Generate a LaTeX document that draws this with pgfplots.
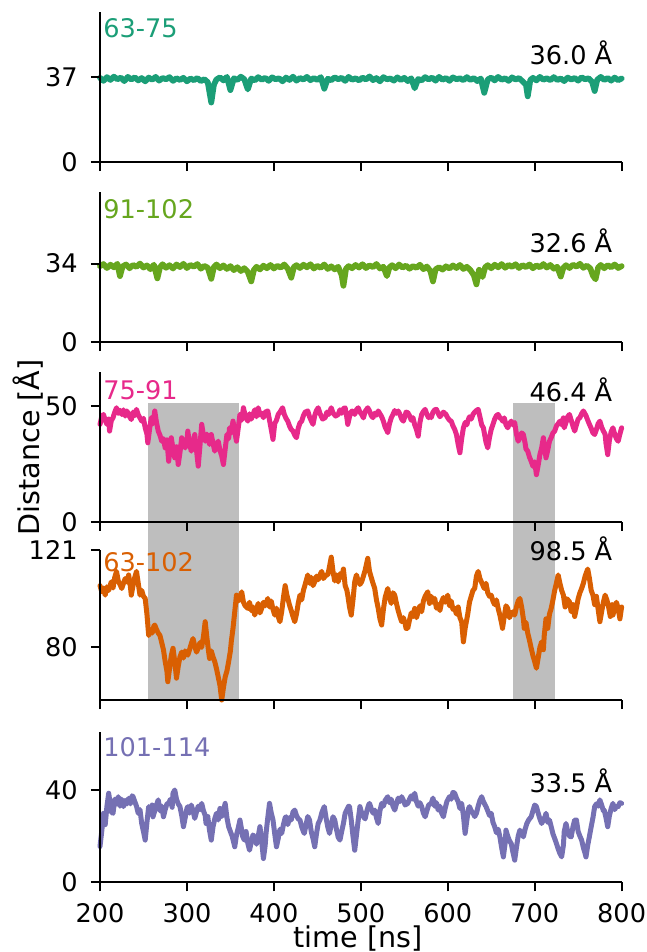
\documentclass[border=0pt]{standalone}
\usepackage{fontspec}
\setmainfont{DejaVu Sans}
\usepackage{pgfplots}
\pgfplotsset{compat=1.18}
\usepackage{xcolor}
\definecolor{cA}{HTML}{1B9E77}
\definecolor{cB}{HTML}{66A61E}
\definecolor{cC}{HTML}{E7298A}
\definecolor{cD}{HTML}{D95F02}
\definecolor{cE}{HTML}{7570B3}
\definecolor{shade}{RGB}{190,190,190}

\pgfplotsset{
  panel/.style={
    scale only axis, width=260.85pt, height=75pt,
    at={(0pt,#1)}, anchor=south west,
    xmin=200, xmax=800, ymin=0, ymax=65,
    axis lines*=left, axis on top, clip=false,
    axis line style={line width=1pt, black},
    tick align=outside, major tick length=4.5pt,
    tick style={line width=1pt, black},
    xtick={200,300,...,800}, xticklabels={},
    tick label style={font=\fontsize{12.8}{15}\selectfont},
    /pgf/number format/assume math mode=true,
    yticklabel style={anchor=east, inner sep=0pt, xshift=-6.5pt},
  },
  trace/.style={line width=2.5pt, line join=round, line cap=round},
  flat/.style={line width=2.9pt, line join=round, line cap=round},
}
\tikzset{
  lab/.style={font=\fontsize{12.8}{15}\selectfont, inner sep=0pt},
}

\begin{document}
\begin{tikzpicture}

% --- 63-75 ---
\begin{axis}[panel=360.15pt, ytick={0,37}]
\addplot[flat, cA] coordinates {
(200,36.5)(204,35.2)(208,36.8)(212,35.6)(216,37.0)(220,35.9)(224,36.6)(228,35.1)(232,36.9)(236,35.8)
(240,36.7)(244,35.4)(248,36.4)(252,35.0)(256,36.6)(260,35.7)(264,36.9)(268,35.3)(272,36.4)(276,35.9)
(280,36.8)(284,35.2)(288,36.3)(292,35.6)(296,36.5)(300,35.0)(304,36.2)(308,35.5)(312,36.4)(316,35.1)
(320,35.9)(324,34.6)(328,25.8)(331,33.5)(334,35.8)(338,36.7)(342,35.4)(346,36.9)(350,31.2)(354,36.3)
(358,35.6)(362,37.0)(366,35.9)(370,31.5)(374,36.2)(378,35.4)(382,36.8)(386,35.7)(390,36.5)(394,35.2)
(398,36.7)(402,35.9)(406,36.3)(410,35.0)(414,36.6)(418,35.6)(422,37.0)(426,35.3)(430,36.4)(434,35.8)
(438,36.9)(442,35.5)(446,36.4)(450,35.6)(454,36.8)(458,31.8)(462,36.1)(466,35.5)(470,36.7)(474,35.9)
(478,36.5)(482,35.2)(486,36.9)(490,35.7)(494,36.3)(498,35.4)(502,36.6)(506,35.8)(510,37.1)(514,35.5)
(518,36.4)(522,35.0)(526,36.8)(530,35.9)(534,36.2)(538,35.3)(542,36.7)(546,35.6)(550,36.5)(554,35.1)
(558,36.3)(562,32.0)(566,36.0)(570,35.4)(574,36.8)(578,35.8)(582,36.6)(586,35.3)(590,36.9)(594,35.7)
(598,36.4)(602,35.2)(606,36.7)(610,35.9)(614,36.3)(618,35.5)(622,36.8)(626,35.6)(630,36.4)(634,35.1)
(638,36.2)(642,30.0)(646,35.8)(650,36.6)(654,35.4)(658,36.9)(662,35.7)(666,36.3)(670,35.2)(674,36.7)
(678,35.8)(682,36.4)(686,35.0)(690,33.5)(692,28.5)(695,35.6)(698,36.5)(702,35.4)(706,36.9)(710,35.7)
(714,36.3)(718,35.5)(722,36.8)(726,35.6)(730,36.2)(734,35.1)(738,36.6)(742,35.8)(746,36.4)(750,35.3)
(754,36.7)(758,35.9)(762,36.3)(766,34.8)(769,30.8)(772,35.7)(776,36.9)(780,35.6)(784,36.4)(788,35.3)
(792,36.6)(796,35.5)(800,36.2)
};
\node[lab, anchor=north west, text=cA] at (rel axis cs:0,1) [xshift=1.5pt, yshift=-3pt] {63-75};
\node[lab, anchor=base east] at (rel axis cs:1,0) [xshift=-4.5pt, yshift=48.6pt] {36.0 Å};
\end{axis}

% --- 91-102 ---
\begin{axis}[panel=270.15pt, ytick={0,34}]
\addplot[flat, cB] coordinates {
(200,32.9)(204,33.8)(208,32.1)(212,33.5)(216,32.4)(220,33.9)(223,28.6)(226,32.8)(230,33.6)(234,32.0)
(238,33.4)(242,32.6)(246,34.0)(250,32.3)(254,33.2)(258,31.6)(262,33.5)(266,27.6)(269,32.4)(272,33.7)
(276,32.2)(280,33.3)(284,31.9)(288,33.6)(292,32.5)(296,33.9)(300,32.1)(304,33.4)(308,32.7)(312,33.8)
(316,31.8)(320,33.0)(324,32.2)(328,27.4)(331,32.5)(334,33.6)(338,32.0)(342,33.2)(346,31.7)(350,32.9)
(354,31.2)(358,32.4)(362,30.8)(366,32.0)(370,30.4)(374,26.3)(377,31.2)(380,32.6)(384,31.5)(388,33.1)
(392,32.0)(396,33.4)(400,31.9)(404,33.0)(408,32.3)(412,33.6)(416,31.8)(420,27.9)(423,32.5)(426,33.3)
(430,32.1)(434,33.5)(438,32.4)(442,33.7)(446,31.9)(450,33.0)(454,32.2)(458,33.6)(462,31.7)(466,32.8)
(470,31.5)(474,32.6)(478,29.0)(480,24.4)(483,31.8)(486,32.9)(490,32.0)(494,33.4)(498,32.3)(502,33.7)
(506,32.1)(510,33.2)(514,32.5)(518,33.8)(522,31.9)(526,32.6)(530,28.6)(533,32.4)(536,33.3)(540,32.0)
(544,33.6)(548,32.3)(552,33.1)(556,31.8)(560,32.9)(564,32.2)(568,33.5)(572,31.6)(576,32.7)(580,30.8)
(583,26.3)(586,31.5)(590,32.4)(594,31.4)(598,32.8)(602,31.9)(606,33.2)(610,32.1)(614,33.4)(618,31.7)
(622,32.6)(626,31.2)(630,29.0)(633,25.0)(636,31.3)(640,28.2)(643,32.4)(646,33.3)(650,32.0)(654,33.5)
(658,32.4)(662,33.8)(666,32.2)(670,33.4)(674,32.6)(678,33.7)(682,32.1)(686,33.3)(690,32.5)(694,33.6)
(698,32.0)(702,33.2)(706,32.4)(710,33.8)(714,32.3)(718,33.4)(722,31.8)(726,32.6)(730,28.4)(733,32.2)
(736,33.3)(740,32.1)(744,33.5)(748,32.7)(752,33.9)(756,32.2)(760,33.1)(764,31.9)(767,28.8)(770,27.2)
(773,32.3)(776,33.4)(780,32.0)(784,33.3)(788,32.4)(792,33.6)(796,32.1)(800,32.9)
};
\node[lab, anchor=north west, text=cB] at (rel axis cs:0,1) [xshift=1.5pt, yshift=-3.5pt] {91-102};
\node[lab, anchor=base east] at (rel axis cs:1,0) [xshift=-4.5pt, yshift=44.8pt] {32.6 Å};
\end{axis}

% --- 75-91, with the shaded windows running down through the next panel ---
\begin{axis}[panel=180.3pt, ytick={0,50}]
\addplot[fill=shade, draw=none] coordinates {(255.5,51.4) (360,51.4) (360,-77.4) (255.5,-77.4)} -- cycle;
\addplot[fill=shade, draw=none] coordinates {(674.7,51.4) (723.4,51.4) (723.4,-77.4) (674.7,-77.4)} -- cycle;
\addplot[trace, cC] coordinates {
(200,42.2)(202,45.5)(204,46.5)(206,44.0)(208,42.2)(210,44.5)(211,39.3)(213,43.8)(215,45.1)(217,47.5)
(219,49.4)(221,47.0)(223,48.3)(225,46.5)(227,48.5)(229,45.8)(231,48.0)(233,46.2)(236,44.3)(238,47.5)
(240,46.0)(242,48.7)(244,46.3)(246,45.0)(248,43.6)(250,44.8)(252,40.7)(254,38.0)(255,34.2)(257,40.0)
(259,45.1)(261,42.5)(263,48.0)(265,43.0)(267,39.3)(269,37.5)(271,34.9)(273,36.0)(275,32.0)(277,35.5)
(279,26.2)(281,33.0)(282,36.4)(284,31.5)(286,27.7)(288,32.5)(290,24.8)(292,30.0)(294,36.4)(296,33.5)
(298,32.0)(300,35.0)(301,39.3)(303,34.0)(305,30.6)(307,34.5)(309,37.8)(311,31.0)(313,24.1)(315,33.0)
(317,42.2)(319,37.5)(321,34.9)(323,38.0)(324,36.4)(326,33.5)(328,37.8)(330,34.0)(332,30.6)(334,33.5)
(336,34.9)(338,31.0)(340,28.5)(342,24.8)(344,31.5)(346,37.8)(348,36.0)(349,40.7)(351,38.5)(353,43.6)
(355,39.0)(357,34.9)(359,40.5)(361,46.5)(363,44.0)(365,49.4)(367,46.0)(370,43.6)(372,46.8)(374,44.5)
(376,46.5)(378,48.5)(380,45.5)(382,49.4)(384,46.3)(386,47.0)(388,45.1)(390,47.5)(393,48.0)(395,44.0)
(397,40.0)(399,35.7)(401,42.5)(403,44.0)(405,46.5)(407,47.5)(410,49.4)(412,46.5)(414,44.8)(416,43.6)
(418,41.5)(420,40.0)(422,39.3)(424,37.5)(426,36.4)(428,40.5)(430,42.8)(432,43.6)(434,46.0)(436,47.5)
(439,48.0)(441,45.5)(443,43.8)(445,42.2)(447,46.0)(449,48.2)(451,49.4)(453,47.0)(456,44.5)(459,45.1)
(461,47.5)(463,46.5)(466,49.4)(468,47.2)(471,45.8)(474,46.5)(476,48.5)(478,47.0)(480,49.0)(482,49.4)
(484,45.0)(485,42.2)(487,45.5)(489,47.8)(491,48.0)(493,46.5)(495,48.5)(497,49.4)(499,47.5)(501,46.5)
(503,45.0)(505,47.8)(508,49.4)(510,48.0)(512,46.0)(514,45.1)(516,47.0)(518,46.2)(520,48.0)(522,46.8)
(524,45.5)(526,43.6)(528,41.0)(530,39.5)(531,38.6)(533,42.5)(535,45.0)(537,46.5)(539,48.2)(541,47.0)
(543,48.0)(545,46.5)(547,44.5)(549,43.6)(551,46.0)(552,47.5)(554,47.3)(556,46.0)(558,44.0)(560,45.1)
(562,42.0)(564,40.0)(566,37.1)(568,43.0)(570,46.5)(572,47.8)(574,48.7)(576,46.5)(578,45.1)(580,46.0)
(581,45.1)(583,47.5)(585,48.5)(587,48.7)(589,47.0)(591,45.5)(593,46.5)(595,47.5)(598,46.5)(600,45.0)
(602,44.0)(604,43.6)(606,41.5)(608,40.0)(610,37.8)(612,33.5)(614,29.9)(616,36.0)(618,40.7)(620,43.0)
(622,42.0)(623,43.6)(625,45.5)(627,44.5)(629,46.5)(631,47.5)(633,48.2)(635,48.7)(637,45.5)(639,42.0)
(641,40.7)(643,36.5)(644,34.5)(646,32.0)(648,36.5)(650,40.0)(652,42.2)(654,44.5)(656,46.0)(658,46.5)
(660,45.0)(662,44.5)(663,43.6)(665,45.0)(667,42.0)(669,40.7)(671,42.5)(673,43.6)(675,42.0)(677,43.0)
(679,38.0)(681,34.9)(683,36.5)(685,38.5)(687,37.8)(689,34.0)(690,31.5)(692,30.6)(694,28.0)(696,26.2)
(698,24.0)(700,26.0)(702,20.4)(704,24.5)(706,29.1)(708,32.0)(710,36.4)(712,30.5)(713,27.7)(715,31.0)
(717,34.9)(719,36.5)(721,38.5)(723,39.3)(725,41.5)(727,42.5)(729,43.6)(731,42.0)(733,45.0)(734,40.7)
(736,43.0)(738,45.5)(740,46.5)(742,44.0)(744,41.5)(746,39.3)(748,42.0)(750,44.5)(752,45.1)(754,46.8)
(756,48.0)(759,46.0)(761,44.0)(763,42.2)(765,40.5)(767,38.5)(769,37.8)(771,40.0)(773,42.5)(775,43.6)
(777,41.0)(779,39.3)(781,38.0)(782,34.0)(784,29.1)(786,35.5)(788,39.0)(790,40.7)(792,38.0)(794,36.0)
(796,34.9)(798,38.0)(800,40.7)
};
\node[lab, anchor=north west, text=cC] at (rel axis cs:0,1) [xshift=1.5pt, yshift=-4pt] {75-91};
\node[lab, anchor=base east] at (rel axis cs:1,0) [xshift=-4.5pt, yshift=60.3pt] {46.4 Å};
\end{axis}

% --- 63-102 ---
\begin{axis}[panel=91.15pt, ymin=57.8, ymax=121, ytick={80,121}]
\addplot[trace, cD] coordinates {
(200,106.0)(202,103.5)(204,105.0)(206,102.0)(208,105.5)(210,104.0)(213,107.6)(215,105.0)(217,109.5)(219,112.0)
(221,108.0)(223,106.5)(225,104.8)(227,107.0)(229,109.0)(231,107.5)(233,110.5)(235,105.5)(236,102.0)(238,106.0)
(240,109.5)(242,112.0)(244,107.0)(246,102.0)(248,104.0)(250,101.5)(252,100.6)(254,94.0)(256,85.0)(258,87.0)
(260,86.0)(262,89.0)(263,89.4)(265,87.5)(267,86.0)(269,85.0)(271,82.0)(273,79.0)(275,74.0)(277,70.0)
(278,65.5)(280,71.0)(282,76.5)(284,79.6)(286,74.0)(288,67.0)(290,72.0)(292,76.0)(294,78.0)(296,75.5)
(298,78.5)(301,76.7)(303,79.0)(305,81.5)(307,83.7)(309,80.5)(311,78.0)(313,79.6)(315,82.0)(317,80.0)
(319,84.5)(321,90.8)(323,84.0)(325,78.0)(326,75.3)(328,78.5)(330,76.0)(332,74.0)(334,71.0)(336,67.5)
(338,64.0)(340,57.8)(342,63.0)(344,67.5)(346,70.0)(348,74.0)(350,78.5)(351,82.3)(353,88.0)(355,95.0)
(357,102.0)(359,99.5)(361,101.0)(363,103.4)(365,99.0)(367,97.5)(370,96.4)(372,99.0)(374,95.5)(376,97.0)
(378,93.6)(380,96.0)(382,98.5)(384,94.5)(386,96.4)(388,99.0)(390,97.5)(393,100.6)(395,97.0)(397,99.5)
(399,96.0)(401,93.6)(403,96.5)(405,93.0)(407,90.8)(409,95.0)(411,101.0)(413,106.0)(415,102.0)(418,97.8)
(420,95.5)(422,93.0)(424,90.8)(426,94.0)(428,98.5)(430,102.0)(432,100.0)(434,104.0)(436,106.5)(439,110.5)
(441,107.0)(443,109.5)(445,106.0)(447,107.6)(449,110.0)(451,108.5)(453,110.5)(455,112.0)(457,109.0)(460,110.5)
(462,110.5)(464,114.0)(466,118.0)(468,112.0)(470,108.0)(472,110.5)(474,107.6)(476,111.0)(478,109.5)(480,113.0)
(482,106.0)(484,104.0)(485,102.0)(487,97.0)(489,93.6)(491,100.0)(493,107.6)(495,110.5)(497,108.0)(499,106.5)
(501,107.6)(503,110.0)(505,112.5)(508,117.5)(510,112.0)(512,109.5)(514,107.0)(516,104.8)(518,100.0)(520,96.5)
(522,92.0)(524,89.4)(526,96.0)(528,101.0)(531,104.8)(533,101.0)(535,98.5)(537,103.0)(539,102.0)(541,98.5)
(543,95.5)(545,93.0)(547,90.8)(549,92.5)(551,90.0)(552,88.0)(554,88.0)(556,91.5)(558,94.5)(560,93.0)
(562,96.4)(564,92.5)(566,95.0)(568,97.5)(570,95.0)(572,99.5)(574,101.5)(577,103.4)(579,98.5)(581,101.5)
(583,99.0)(585,100.6)(587,96.5)(589,98.0)(591,95.5)(593,99.2)(595,101.0)(597,99.0)(600,102.0)(602,97.5)
(604,99.5)(606,96.0)(608,96.4)(610,94.0)(612,97.0)(614,92.5)(616,90.8)(618,82.3)(620,88.0)(622,92.0)
(623,94.0)(625,99.0)(627,101.5)(629,104.0)(631,104.8)(633,110.0)(635,112.0)(637,109.0)(640,106.5)(642,104.8)
(644,107.0)(646,103.0)(648,101.5)(650,102.0)(652,99.5)(654,98.0)(656,100.0)(658,96.4)(660,93.5)(662,90.0)
(663,88.0)(665,93.0)(667,97.5)(669,96.4)(671,92.5)(673,94.0)(675,95.0)(677,93.6)(679,97.0)(681,99.5)
(683,100.6)(685,97.0)(687,92.0)(688,88.0)(690,90.5)(692,86.0)(694,83.0)(696,79.6)(698,76.5)(700,74.0)
(702,71.2)(704,75.5)(706,80.0)(708,82.3)(710,79.0)(711,85.0)(713,92.0)(715,88.0)(717,94.0)(719,96.4)
(721,100.0)(723,104.0)(725,107.0)(727,110.5)(729,107.0)(731,104.0)(733,102.0)(735,97.0)(737,100.5)(740,99.2)
(742,95.0)(744,98.0)(746,93.0)(748,96.5)(750,100.5)(752,103.0)(754,104.8)(756,107.0)(758,110.0)(761,113.0)
(763,109.0)(765,104.0)(767,102.0)(769,98.0)(771,101.5)(773,96.0)(775,90.8)(777,95.0)(779,99.0)(781,102.0)
(783,100.0)(785,97.0)(787,93.0)(789,98.0)(790,93.6)(792,96.5)(794,99.0)(796,96.4)(798,92.0)(800,97.0)
};
\node[lab, anchor=north west, text=cD] at (rel axis cs:0,1) [xshift=1.5pt, yshift=-1pt] {63-102};
\node[lab, anchor=base east] at (rel axis cs:1,0) [xshift=-4.5pt, yshift=69.7pt] {98.5 Å};
\end{axis}

% --- 101-114 ---
\begin{axis}[panel=0pt, ytick={0,40},
  xticklabels={200,300,400,500,600,700,800},
  xticklabel style={anchor=base, yshift=-15.4pt}]
\addplot[trace, cE] coordinates {
(200,15.5)(202,22.0)(204,29.9)(206,25.0)(208,33.0)(210,38.6)(212,33.5)(213,30.5)(215,29.9)(217,36.0)
(219,34.0)(221,37.1)(223,33.0)(225,36.0)(227,32.8)(229,35.5)(231,34.0)(233,36.4)(235,34.0)(237,37.5)
(238,37.1)(240,35.0)(242,33.0)(244,29.9)(246,31.5)(248,25.5)(250,22.0)(252,18.3)(254,26.0)(256,32.8)
(258,30.5)(260,33.5)(261,28.4)(263,31.0)(265,33.5)(267,35.7)(269,31.0)(271,33.0)(273,28.4)(275,31.5)
(277,34.0)(279,34.2)(281,36.0)(283,32.5)(284,38.6)(286,40.0)(288,36.0)(290,34.0)(292,32.8)(294,29.0)
(296,24.1)(298,28.0)(300,32.0)(301,32.8)(303,30.0)(305,33.5)(307,31.0)(309,27.7)(311,30.5)(313,33.0)
(315,31.5)(317,34.2)(319,31.0)(321,29.0)(322,25.5)(324,28.5)(326,22.5)(328,18.3)(330,24.0)(332,27.5)
(334,29.9)(336,27.0)(338,32.0)(340,28.5)(342,31.0)(344,34.2)(346,28.0)(348,24.1)(350,22.0)(352,20.0)
(354,17.0)(355,15.4)(357,20.5)(359,23.5)(361,27.0)(363,22.5)(364,20.0)(366,18.3)(368,22.0)(370,17.0)
(372,13.9)(374,17.5)(376,20.5)(378,19.7)(380,16.5)(382,20.0)(384,24.1)(386,18.0)(387,14.0)(388,10.3)
(390,16.0)(391,21.2)(393,28.0)(395,34.2)(397,30.0)(399,27.0)(401,21.0)(403,15.4)(405,19.0)(407,23.0)
(409,21.2)(411,25.0)(413,28.0)(414,28.4)(416,25.0)(418,28.0)(420,27.0)(422,30.5)(424,31.3)(426,29.0)
(428,27.5)(430,27.0)(432,24.0)(434,22.0)(435,21.2)(437,25.0)(439,28.5)(441,27.0)(443,22.0)(445,19.0)
(447,15.4)(449,21.0)(451,25.5)(453,27.0)(455,30.0)(456,31.0)(458,32.8)(460,28.0)(462,24.0)(464,21.2)
(466,25.0)(468,28.4)(470,27.0)(472,23.0)(474,19.5)(476,18.3)(478,22.0)(480,25.5)(482,29.9)(484,31.5)
(486,33.0)(487,32.8)(489,27.0)(491,20.0)(493,13.9)(495,20.5)(497,27.0)(499,32.8)(501,30.0)(503,28.4)
(505,27.5)(507,31.0)(509,33.5)(510,34.2)(512,32.0)(514,30.0)(516,31.3)(518,28.0)(520,25.5)(522,31.0)
(524,34.2)(526,33.0)(528,35.5)(531,37.1)(533,34.5)(535,36.0)(537,33.0)(539,31.3)(541,34.0)(543,36.5)
(545,35.0)(547,37.1)(549,35.5)(551,33.5)(554,34.2)(556,36.0)(558,37.5)(560,36.0)(562,38.6)(564,35.0)
(566,33.0)(568,34.5)(570,32.8)(572,30.0)(574,28.4)(576,31.0)(578,33.5)(581,34.2)(583,36.5)(585,33.0)
(587,34.5)(589,31.3)(591,33.0)(593,30.0)(595,28.4)(597,32.0)(599,35.0)(602,37.1)(604,36.0)(606,39.0)
(608,38.6)(610,36.5)(612,35.0)(614,32.0)(616,34.2)(618,29.0)(620,21.2)(622,27.0)(624,32.0)(625,32.8)
(627,31.0)(629,30.0)(631,28.5)(633,29.9)(635,33.0)(637,35.5)(639,37.1)(641,35.0)(643,33.5)(644,32.8)
(646,31.0)(648,29.0)(650,29.9)(652,26.0)(654,24.1)(656,21.5)(658,23.0)(660,19.7)(662,15.0)(664,11.0)
(666,17.0)(667,22.6)(669,20.0)(671,18.0)(673,16.8)(675,13.0)(677,9.6)(679,15.0)(681,20.0)(683,22.6)
(685,21.0)(687,19.7)(689,23.0)(691,25.5)(693,27.0)(696,28.4)(698,31.0)(700,33.5)(702,32.8)(704,30.0)
(706,27.5)(708,25.5)(710,27.0)(712,28.5)(713,29.9)(715,26.0)(717,27.0)(719,24.1)(721,21.0)(723,19.0)
(725,16.8)(727,14.5)(729,12.5)(731,11.0)(733,16.0)(734,22.0)(736,25.5)(738,22.0)(740,20.0)(742,19.7)
(744,24.0)(746,27.0)(748,27.0)(750,22.0)(752,20.0)(754,18.3)(756,15.0)(758,12.5)(759,11.0)(761,16.0)
(763,20.0)(765,24.1)(767,28.0)(769,32.8)(771,34.0)(773,33.0)(775,35.7)(777,33.5)(779,31.0)(780,31.3)
(782,28.0)(784,24.1)(786,29.0)(788,32.0)(790,34.2)(792,31.5)(794,33.0)(796,32.8)(798,34.5)(800,34.2)
};
\node[lab, anchor=north west, text=cE] at (rel axis cs:0,1) [xshift=1.5pt, yshift=-2.5pt] {101-114};
\node[lab, anchor=base east] at (rel axis cs:1,0) [xshift=-4.5pt, yshift=44.8pt] {33.5 Å};
\end{axis}

\node[rotate=90, font=\fontsize{14.3}{17}\selectfont, inner sep=0pt] at (-35.75pt,217.5pt) {Distance [Å]};
\node[anchor=base, font=\fontsize{14.3}{17}\selectfont, inner sep=0pt] at (129pt,-32.5pt) {time [ns]};

\pgfresetboundingbox
\path[use as bounding box] (-50pt,-34.85pt) rectangle (273.5pt,441.2pt);
\end{tikzpicture}
\end{document}
